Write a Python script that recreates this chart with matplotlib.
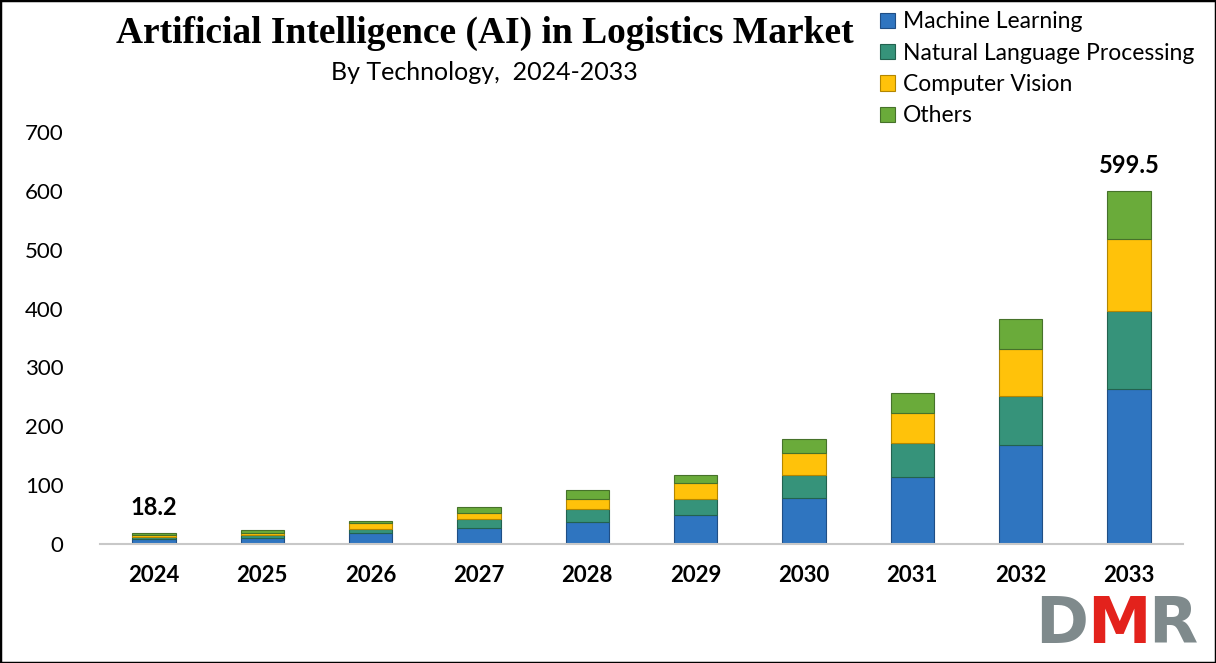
import matplotlib
matplotlib.use("Agg")
import matplotlib.pyplot as plt
import numpy as np
from matplotlib.patches import Rectangle

years = ["2024", "2025", "2026", "2027", "2028", "2029", "2030", "2031", "2032", "2033"]
machine_learning = [8.0, 10.0, 18.0, 28.0, 38.0, 50.0, 78.0, 113.0, 169.0, 263.0]
nlp = [4.5, 5.0, 8.0, 14.0, 21.0, 26.0, 39.0, 58.0, 83.0, 133.0]
computer_vision = [3.5, 4.5, 9.0, 11.0, 17.0, 27.0, 38.0, 52.0, 80.0, 122.0]
others = [2.2, 3.5, 4.0, 9.0, 15.0, 15.0, 23.0, 33.0, 51.0, 81.5]
series_names = ["Machine Learning", "Natural Language Processing", "Computer Vision", "Others"]
colors = ["#2F75C0", "#36937A", "#FFC20A", "#6AAB3A"]
edge_colors = ["#1F4E85", "#23624F", "#B38600", "#46722A"]
annotated = {0: "18.2", 9: "599.5"}
yticks = [0, 100, 200, 300, 400, 500, 600, 700]

fig = plt.figure(figsize=(12.16, 6.63), dpi=100)
ax = fig.add_axes([0.082, 0.1795, 0.891, 0.6215])

x = np.arange(len(years))
bottom = np.zeros(len(years))
for vals, c, ec, name in zip([machine_learning, nlp, computer_vision, others], colors, edge_colors, series_names):
    ax.bar(x, vals, width=0.4, bottom=bottom, color=c, edgecolor=ec, linewidth=0.8, label=name)
    bottom += np.array(vals)

for i, txt in annotated.items():
    ax.text(x[i], bottom[i] + 24, txt, ha="center", va="bottom", fontsize=17,
            fontweight="bold", family="Lato", clip_on=False)

ax.set_xlim(-0.5, len(years) - 0.5)
ax.set_ylim(0, 700)
ax.set_xticks(x)
ax.set_xticklabels(years, fontsize=16, fontweight="bold", family="Lato")
ax.set_yticks(yticks)
ax.set_yticklabels([str(v) for v in yticks], fontsize=16, family="Lato")
ax.tick_params(axis="both", length=0)
ax.tick_params(axis="x", pad=15)
ax.tick_params(axis="y", pad=26)
for s in ["top", "right", "left"]:
    ax.spines[s].set_visible(False)
ax.spines["bottom"].set_color("#C8C8C8")
ax.spines["bottom"].set_linewidth(1.5)

fig.text(0.399, 0.950, "Artificial Intelligence (AI) in Logistics Market", ha="center", va="center",
         fontsize=27, fontweight="bold", family="Liberation Serif")
fig.text(0.398, 0.890, "By Technology,  2024-2033", ha="center", va="center",
         fontsize=18, family="Lato")

leg = fig.legend(loc="upper left", bbox_to_anchor=(0.707, 1.014), frameon=False,
                 prop={"family": "Lato", "size": 16.5}, handlelength=0.65, handleheight=0.65,
                 handletextpad=0.35, labelspacing=0.45)

# logo
logo_y = 0.058
fig.text(0.851, logo_y, "D", fontsize=46, fontweight="bold", color="#7F8A8C", family="DejaVu Sans", ha="left", va="center")
fig.text(0.894, logo_y, "M", fontsize=46, fontweight="bold", color="#E3221C", family="DejaVu Sans", ha="left", va="center")
fig.text(0.944, logo_y, "R", fontsize=46, fontweight="bold", color="#7F8A8C", family="DejaVu Sans", ha="left", va="center")

fig.patches.append(Rectangle((0, 0), 1, 1, transform=fig.transFigure, fill=False,
                             edgecolor="black", linewidth=2.5))

fig.savefig("out.png", dpi=100)
